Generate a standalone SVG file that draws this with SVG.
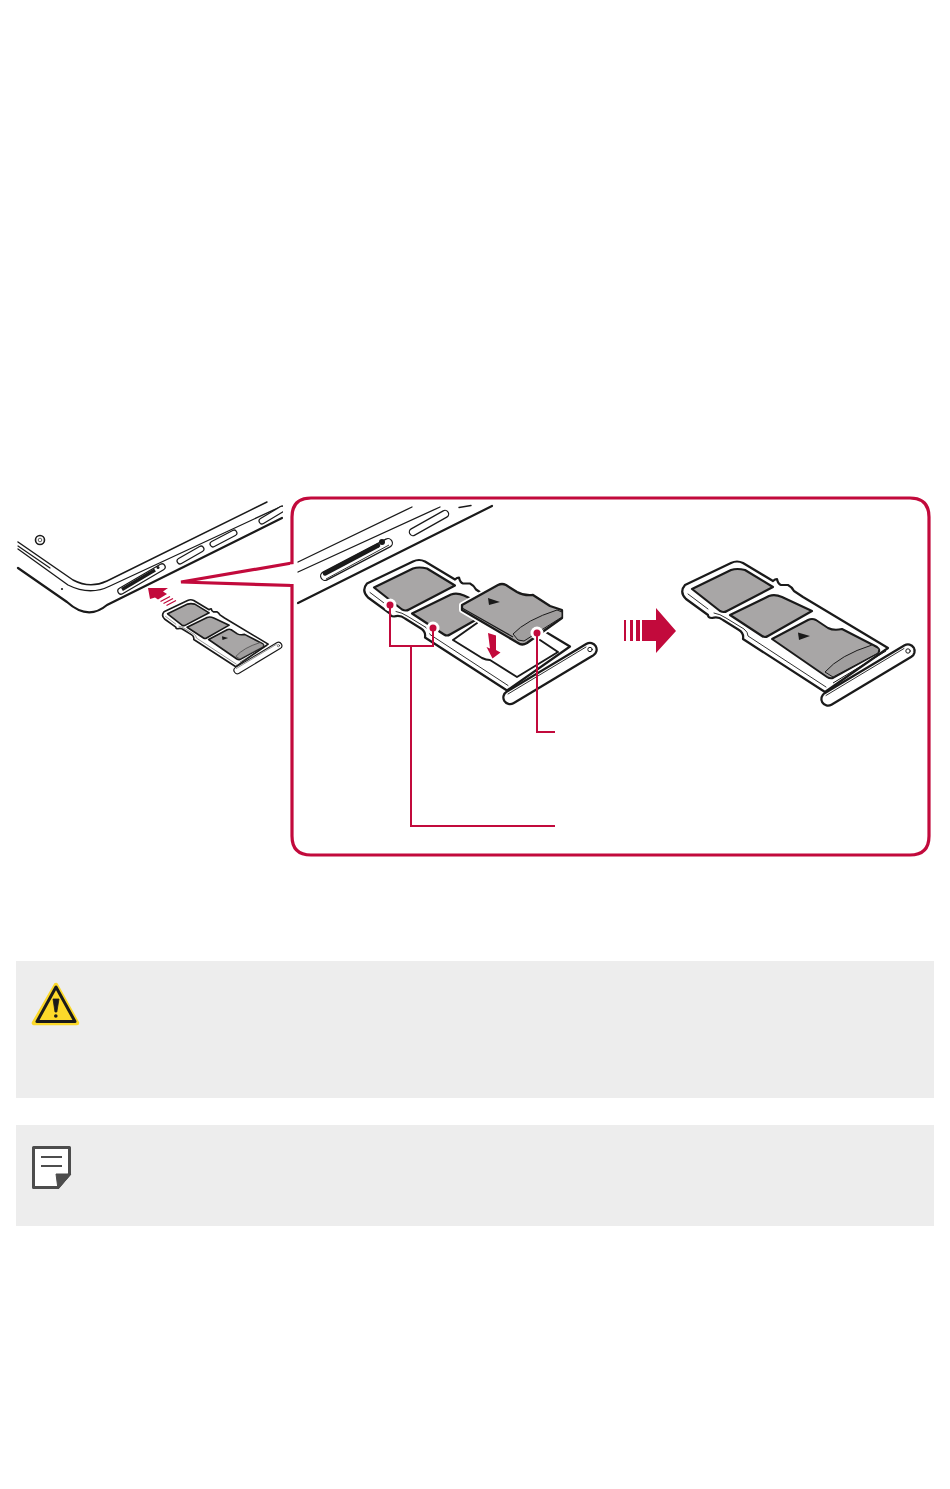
<svg xmlns="http://www.w3.org/2000/svg" width="950" height="1489" viewBox="0 0 950 1489">
<style>
.ln{fill:none;stroke:#1a1a1a;stroke-linejoin:round;stroke-linecap:round}
.rd{fill:none;stroke:#c20a3c;stroke-width:2}
.rf{fill:#c20a3c}
.sl{fill:#a8a6a6;stroke:#1a1a1a;stroke-linejoin:round}
.box{fill:#ededed}
</style>
<defs>
<g id="tray-base" stroke-linejoin="round" stroke-linecap="round">
<path d="M685 585L731 563Q737 560 743 563L773 581Q775 579 777 579Q778 584 781 585L788 585Q792 587 794 591L803 597L888 648L825 692L743 639Q744 633 739 630L723 620Q718 616 712 618Q708 618 708 615L686 599Q679 592 685 585Z" fill="#fff" stroke="#1a1a1a"/>
<path d="M688 594L708 609M714 613Q720 614 726 618L744 629Q748 632 748 636L826 687" fill="none" stroke="#1a1a1a" stroke-width=".9"/>
<path d="M692 589L731 570Q737 568 745 570L773 587L727 611Q724 613 720 611Z" fill="#a8a6a6" stroke="#1a1a1a"/>
<path d="M730 615L769 596Q775 594 782 597L812 611L768 636Q765 638 762 636Z" fill="#a8a6a6" stroke="#1a1a1a"/>
<path d="M828 699L908 651" fill="none" stroke="#1a1a1a" stroke-width="15.500" stroke-linecap="round"/>
<path d="M828 699L908 651" fill="none" stroke="#fff" stroke-width="11" stroke-linecap="round"/>
<path d="M826 695.500L904 648.500" fill="none" stroke="#1a1a1a" stroke-width=".9"/>
<circle cx="908" cy="651" r="2.200" fill="#fff" stroke="#1a1a1a" stroke-width="1"/>
</g>
<g id="tray-card" stroke-linejoin="round">
<path d="M833 683L886 651" fill="none" stroke="#1a1a1a" stroke-width="1"/>
<path d="M772 639L808 620Q812 618 816 620L828 628Q834 631 842 629L877 647Q881 650 878 653L833 678Q830 679 827 677Z" fill="#a8a6a6" stroke="#1a1a1a"/>
<path d="M825 672Q840 655 872 645L879 649L878 653L833 677Z" fill="#a09e9e" stroke="#1a1a1a" stroke-width="1"/>
<path d="M798 632.500L810 636L799 640Z" fill="#1a1a1a" stroke="none"/>
</g>
</defs>
<g id="phone">
<path class="ln" stroke-width="2.200" d="M18 568L67 602Q88 621 107 605L282 518"/>
<path class="ln" stroke-width="1.500" d="M18 542L73 580Q90 589 107 581L267 502"/>
<path class="ln" stroke-width="1.300" d="M18 549L68 585Q90 596 110 586L280 507"/>
<path class="ln" stroke-width="1.200" d="M18 546L50 568"/>
<circle cx="40" cy="540" r="4.500" fill="#fff" stroke="#1a1a1a" stroke-width="1.600"/>
<circle cx="40" cy="540" r="1.800" fill="#fff" stroke="#1a1a1a" stroke-width=".7"/>
<circle cx="62" cy="589" r="1.100" fill="#1a1a1a"/>
<path d="M121 591L162 567" stroke="#1a1a1a" stroke-width="7.500" stroke-linecap="round" fill="none"/>
<path d="M121 591L162 567" stroke="#fff" stroke-width="5" stroke-linecap="round" fill="none"/>
<path d="M122 589.500L155 570" stroke="#1a1a1a" stroke-width="3.500" fill="none"/>
<circle cx="158" cy="567.500" r="1.500" fill="#1a1a1a"/>
<g fill="none" stroke-linecap="round">
<path d="M180 561L201 549M213 544L234 533M262 521L282 509" stroke="#1a1a1a" stroke-width="7"/>
<path d="M180 561L201 549M213 544L234 533M262 521L282 509" stroke="#fff" stroke-width="4.500"/>
</g>
<rect x="283" y="500" width="8" height="30" fill="#fff"/>
</g>
<g id="tray-small">
<use href="#tray-base" transform="translate(-187.400 311.700) scale(.513)" stroke-width="3.200"/>
<use href="#tray-card" transform="translate(-187.400 311.700) scale(.513)" stroke-width="3.200"/>
</g>
<g id="insert-arrow">
<path class="rf" d="M148 588L168 588L163 591.500L167 594L158 599.500L155 597.500L150 599Z"/>
<path d="M170 596.500L160.500 601.500M173 598.500L163.500 603.500M176 600.500L166.500 605.500" stroke="#c20a3c" stroke-width="1.300" fill="none"/>
</g>
<g id="callout">
<path fill="none" stroke="#c20a3c" stroke-width="3.200" stroke-linejoin="miter" d="M181 582L292 563V517Q292 498 311 498H910Q929 498 929 517V836Q929 855 910 855H311Q292 855 292 836V585.500Z"/>
<path d="M292 564.500L292 584" stroke="#fff" stroke-width="4"/>
</g>
<g id="phone-detail">
<path class="ln" stroke-width="1.300" d="M298 562L412 507"/>
<path class="ln" stroke-width="1.300" d="M298 572L440 507"/>
<path class="ln" stroke-width="2.200" d="M298 603L492 506"/>
<path d="M325 576L388 543" stroke="#1a1a1a" stroke-width="10" stroke-linecap="round" fill="none"/>
<path d="M325 576L388 543" stroke="#fff" stroke-width="7.500" stroke-linecap="round" fill="none"/>
<path d="M325 573.500L378 545.500" stroke="#1a1a1a" stroke-width="4.500" stroke-linecap="round" fill="none"/>
<path d="M326 579L389 545" stroke="#1a1a1a" stroke-width=".9" fill="none"/>
<circle cx="382" cy="542" r="3" fill="#1a1a1a"/>
<g fill="none" stroke-linecap="round">
<path d="M413 532L445 514" stroke="#1a1a1a" stroke-width="8.500"/>
<path d="M413 532L445 514" stroke="#fff" stroke-width="6"/>
<path d="M459 507.500L471 505.500" stroke="#1a1a1a" stroke-width="1.400"/>
</g>
</g>
<g id="tray-middle">
<use href="#tray-base" transform="translate(-318 -1.500)" stroke-width="2.200"/>
<path class="ln" stroke-width="2" d="M477 623L453 640L482 658Q486 660 490 660L517 677L558 652L540 640"/>
<path class="rf" d="M488 633L496 635.500V650L500.500 652.500L492.500 658.500L486.500 647L490 648.500Z"/>
</g>
<g id="microsd">
<path d="M462 605L498 585Q502 583 506 585L517 592Q524 596 533 595L550 606L562 610V618L527 643Q522 646 518 643L462 610Z" fill="#fff" stroke="#fff" stroke-width="6" stroke-linejoin="round"/>
<path d="M462 605L498 585Q502 583 506 585L517 592Q524 596 533 595L550 606L562 610V618L527 643Q522 646 518 643L462 610Z" class="sl" stroke-width="2.300"/>
<path d="M513 634Q526 620 557 610L562 612V617L524 641L518 640Z" fill="#a09e9e" stroke="#1a1a1a" stroke-width="1"/>
<path d="M462 608L513 637" fill="none" stroke="#1a1a1a" stroke-width="1.200"/>
<path d="M488 598L500 602L489 605Z" fill="#1a1a1a"/>
</g>
<g id="tray-right">
<use href="#tray-base" stroke-width="2.200"/>
<use href="#tray-card" stroke-width="2"/>
</g>
<g id="big-arrow">
<path class="rf" d="M642 620H656V608L676 631L656 653V641H642Z"/>
<path class="rf" d="M624 620H626V641H624ZM630 620H633V641H630ZM636 620H640V641H636Z"/>
</g>
<g id="connectors">
<circle cx="390" cy="605" r="6.500" fill="#fff"/>
<circle cx="433" cy="628" r="6.500" fill="#fff"/>
<circle cx="537" cy="633" r="6.500" fill="#fff"/>
<path class="rd" d="M390 605V646H433V628M411 646V826H555M537 633V732H555"/>
<circle class="rf" cx="390" cy="605" r="3.500"/>
<circle class="rf" cx="433" cy="628" r="3.500"/>
<circle class="rf" cx="537" cy="633" r="3.500"/>
</g>
<g id="caution-box">
<rect class="box" x="16" y="961" width="918" height="137"/>
<path d="M56 985L34 1023H77Z" fill="#fcd92a" stroke="#fcd92a" stroke-width="4.500" stroke-linejoin="round"/>
<path d="M56 987L37 1021.500H75Z" fill="#fcd92a" stroke="#1a1a1a" stroke-width="3" stroke-linejoin="round"/>
<path d="M53 999H59L56.800 1012H55Z" fill="#1a1a1a" stroke="#1a1a1a" stroke-width=".8" stroke-linejoin="round"/>
<circle cx="55.800" cy="1016" r="1.800" fill="#1a1a1a"/>
</g>
<g id="note-box">
<rect class="box" x="16" y="1125" width="918" height="101"/>
<path d="M33.500 1147.500H69.500V1174L58 1187.500H33.500Z" fill="#fff" stroke="#4d4d4d" stroke-width="3" stroke-linejoin="round"/>
<path d="M56 1174H71L58 1189Z" fill="#4d4d4d" stroke="#4d4d4d" stroke-linejoin="round"/>
<path d="M41 1157H62M41 1166H62" stroke="#4d4d4d" stroke-width="2.200"/>
</g>
</svg>
